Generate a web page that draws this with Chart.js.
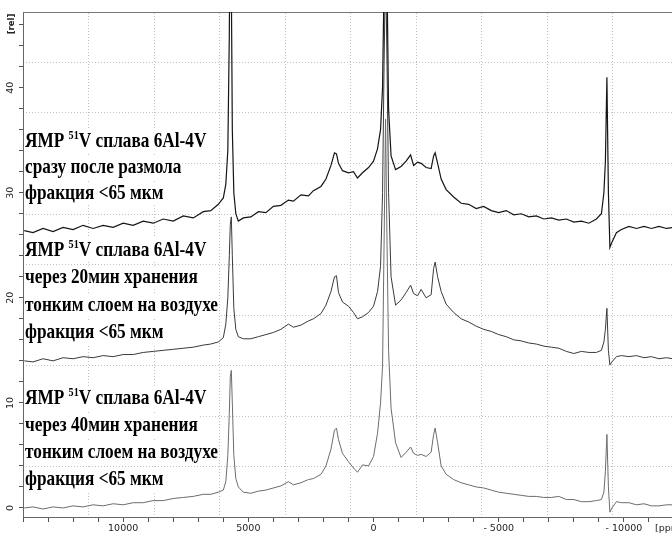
<!DOCTYPE html>
<html>
<head>
<meta charset="utf-8">
<script src="https://cdn.jsdelivr.net/npm/chart.js@4.4.1/dist/chart.umd.min.js"></script>
<style>
  html, body { margin: 0; padding: 0; background: #fff; }
</style>
</head>
<body>
<canvas id="nmr" width="672" height="534"></canvas>
<script>
// chemical shift, ppm (axis is reversed: high ppm on the left)
var ppm = [
  13950, 13600, 13200, 12800, 12400, 12000, 11600, 11200, 10800, 10400,
  10000, 9600, 9200, 8800, 8400, 8000, 7600, 7200, 6800, 6500, 6200,
  6000, 5900, 5820, 5760, 5720, 5680, 5640, 5580, 5500, 5400,
  5200, 4900, 4600, 4300, 4000, 3700, 3400, 3200, 2900, 2600, 2400, 2100,
  1900, 1700, 1560, 1480, 1400, 1240, 1000, 800, 640, 440,
  200, 0, -160, -280, -360, -420, -480, -540, -600, -700,
  -880, -1100, -1300, -1480, -1600, -1760, -1900, -2100, -2300, -2400,
  -2460, -2560, -2700, -2900,
  -3200, -3500, -3800, -4100, -4400, -4700, -5000, -5300, -5600, -5900,
  -6200, -6500, -6800, -7100, -7400, -7700, -8000, -8300, -8600, -8900, -9100,
  -9200, -9260, -9320, -9380, -9440, -9520,
  -9700, -9900, -10200, -10500, -10800, -11100, -11400, -11700, -11950
];

// right after milling (top trace)
var fresh = [
  26.4, 26.2, 26.6, 26.3, 26.7, 26.5, 26.9, 26.6, 26.9, 26.7,
  27.1, 26.9, 27.3, 27.1, 27.5, 27.3, 27.8, 27.6, 28.2, 28.3, 28.9,
  29.5, 30.8, 34.0, 45.0, 60.0, 50.0, 36.0, 30.0, 28.0, 27.3,
  27.6, 27.7, 28.2, 28.1, 28.7, 28.8, 29.3, 29.2, 29.8, 29.7, 30.2, 30.6,
  31.3, 32.6, 33.8, 33.7, 32.8, 32.1, 31.9, 32.0, 31.4, 31.9,
  32.4, 33.0, 34.2, 36.0, 40.0, 50.0, 60.0, 50.0, 38.0, 33.5,
  32.2, 32.5, 33.0, 33.6, 32.6, 32.9, 32.8, 32.4, 32.3, 33.5,
  33.8, 32.8, 31.3, 30.3,
  29.6, 29.0, 28.9, 28.5, 28.7, 28.3, 28.1, 28.3, 27.9, 28.0,
  27.7, 27.8, 27.5, 27.6, 27.4, 27.5, 27.2, 27.3, 27.1, 27.5, 28.0,
  30.0, 33.0, 41.0, 30.0, 24.8, 25.3,
  26.2, 26.5, 26.8, 26.6, 26.8, 26.6, 26.8, 26.6, 26.7
];

// after 20 min in air (middle trace)
var air20 = [
  14.0, 13.9, 14.2, 14.0, 14.3, 14.2, 14.4, 14.3, 14.5, 14.4,
  14.6, 14.6, 14.8, 14.9, 15.0, 15.1, 15.2, 15.3, 15.5, 15.6, 15.8,
  16.2, 17.5, 20.0, 24.0, 27.0, 27.7, 24.0, 19.0, 17.0, 16.3,
  16.1, 16.1, 16.3, 16.5, 16.7, 17.0, 17.5, 17.2, 17.4, 17.8, 18.0, 18.5,
  19.3, 20.6, 22.0, 22.1, 20.5, 19.6, 19.2, 18.6, 18.0, 18.2,
  18.6, 19.2, 20.6, 23.0, 30.0, 42.0, 52.0, 42.0, 30.0, 22.0,
  19.3, 19.8, 20.5, 21.2, 20.4, 20.2, 20.8, 20.0, 20.3, 22.8,
  23.4, 22.0, 20.6, 19.4,
  18.6, 18.0, 17.7, 17.3, 17.0, 16.8, 16.5, 16.3, 16.0, 15.9,
  15.7, 15.6, 15.4, 15.3, 15.2, 14.9, 14.7, 14.9, 14.8, 14.8, 15.0,
  15.8, 17.0, 19.0, 15.0, 13.6, 13.9,
  14.4, 14.5, 14.4, 14.5, 14.3, 14.4, 14.2, 14.3, 14.2
];

// after 40 min in air (bottom trace)
var air40 = [
  0.0, 0.1, -0.1, 0.1, 0.0, 0.2, 0.1, 0.3, 0.2, 0.4,
  0.3, 0.5, 0.5, 0.7, 0.7, 0.9, 1.0, 1.1, 1.3, 1.3, 1.5,
  1.7, 2.5, 5.0, 9.0, 12.5, 13.1, 10.0, 5.0, 2.8, 2.0,
  1.5, 1.4, 1.6, 1.7, 1.9, 2.1, 2.5, 2.2, 2.4, 2.7, 2.8, 3.2,
  4.0, 5.6, 7.4, 7.6, 6.5, 5.2, 4.4, 3.8, 3.4, 4.1,
  4.0, 4.9, 7.1, 10.0, 13.5, 25.0, 37.0, 25.0, 15.0, 9.5,
  6.2, 4.8, 5.3, 5.8, 5.2, 5.0, 5.1, 4.9, 5.3, 7.0,
  7.6, 6.2, 4.0, 3.2,
  2.7, 2.4, 2.2, 2.0, 1.9, 1.7, 1.5, 1.4, 1.3, 1.2,
  1.1, 1.1, 1.0, 1.0, 1.1, 0.8, 0.8, 0.6, 0.6, 0.7, 0.8,
  1.5, 3.5, 7.0, 2.0, -0.4, 0.0,
  0.6, 0.5, 0.5, 0.3, 0.4, 0.2, 0.2, 0.3, 0.3
];

// x axis ticks every 1000 ppm, labelled every 5000
var xTicks = [
  14000, 13000, 12000, 11000, 10000, 9000, 8000, 7000, 6000, 5000,
  4000, 3000, 2000, 1000, 0, -1000, -2000, -3000, -4000, -5000,
  -6000, -7000, -8000, -9000, -10000, -11000
];

var traceColors = ['#151515', '#3a3a3a', '#6c6c6c'];

// caption blocks, first line of each has the 51V superscript
var head = ['ЯМР ', '51', 'V сплава 6Al-4V'];
var notes = [
  { base: 147, step: 26, lines: ['сразу после размола', 'фракция <65 мкм'] },
  { base: 256, step: 27.3, lines: ['через 20мин хранения', 'тонким слоем на воздухе', 'фракция <65 мкм'] },
  { base: 404, step: 27, lines: ['через 40мин хранения', 'тонким слоем на воздухе', 'фракция <65 мкм'] }
];

function pts(vals) {
  return ppm.map(function(p, i) { return { x: p, y: vals[i] }; });
}

var notesPlugin = {
  id: 'notes',
  beforeDatasetsDraw: function(chart) {
    var ctx = chart.ctx;
    var left = chart.chartArea.left + 2;
    var big = 'bold 22px "Liberation Serif", serif';
    var small = 'bold 13px "Liberation Serif", serif';
    ctx.save();
    ctx.font = big;
    var sx = 193 / ctx.measureText('тонким слоем на воздухе').width;
    notes.forEach(function(blk) {
      var all = [null].concat(blk.lines);
      all.forEach(function(line, i) {
        var y = blk.base + i * blk.step;
        ctx.save();
        ctx.translate(left, y);
        ctx.scale(sx, 1);
        ctx.textBaseline = 'alphabetic';
        ctx.textAlign = 'left';
        var w;
        if (line === null) {
          ctx.font = big;
          var w0 = ctx.measureText(head[0]).width;
          ctx.font = small;
          var w1 = ctx.measureText(head[1]).width;
          ctx.font = big;
          var w2 = ctx.measureText(head[2]).width;
          w = w0 + w1 + w2;
          ctx.fillStyle = '#fff';
          ctx.fillRect(-1, -18, w + 2, 24);
          ctx.fillStyle = '#000';
          ctx.fillText(head[0], 0, 0);
          ctx.fillText(head[2], w0 + w1, 0);
          ctx.font = small;
          ctx.fillText(head[1], w0, -8);
        } else {
          ctx.font = big;
          w = ctx.measureText(line).width;
          ctx.fillStyle = '#fff';
          ctx.fillRect(-1, -17, w + 2, 23);
          ctx.fillStyle = '#000';
          ctx.fillText(line, 0, 0);
        }
        ctx.restore();
      });
    });
    ctx.restore();
  },
  afterDraw: function(chart) {
    var ctx = chart.ctx;
    var xs = chart.scales.x;
    ctx.save();
    ctx.fillStyle = '#222';
    ctx.font = '9.5px "DejaVu Sans"';
    ctx.textAlign = 'left';
    ctx.textBaseline = 'top';
    ctx.fillText('[ppm]', xs.getPixelForValue(-11240), xs.top + 7);
    ctx.translate(chart.chartArea.left - 11, chart.chartArea.top + 12);
    ctx.rotate(-Math.PI / 2);
    ctx.textAlign = 'center';
    ctx.textBaseline = 'middle';
    ctx.font = 'bold 8.5px "DejaVu Sans"';
    ctx.fillText('[rel]', 0, 0);
    ctx.restore();
  }
};

function hideEdge(lo, hi) {
  return function(c) {
    if (c.tick && (c.tick.value === lo || c.tick.value === hi)) return 'rgba(0,0,0,0)';
    return '#c2c2c2';
  };
}

var chart = new Chart(document.getElementById('nmr').getContext('2d'), {
  type: 'line',
  data: {
    datasets: [
      { data: pts(fresh), borderColor: traceColors[0], borderWidth: 1.2 },
      { data: pts(air20), borderColor: traceColors[1] },
      { data: pts(air40), borderColor: traceColors[2] }
    ]
  },
  options: {
    responsive: false,
    animation: false,
    devicePixelRatio: 1,
    layout: { padding: { top: 12, right: 0, left: 0, bottom: 0 } },
    elements: {
      line: { borderWidth: 1, tension: 0 },
      point: { radius: 0 }
    },
    plugins: {
      legend: { display: false },
      tooltip: { enabled: false }
    },
    scales: {
      x: {
        type: 'linear',
        reverse: true,
        min: -11920,
        max: 14000,
        afterFit: function(s) { s.height = 17; },
        afterBuildTicks: function(s) {
          s.ticks = xTicks.map(function(v) { return { value: v }; });
        },
        border: { color: '#666', width: 1 },
        grid: { drawOnChartArea: false, tickLength: 5, color: '#555' },
        ticks: {
          autoSkip: false,
          maxRotation: 0,
          padding: 1,
          color: '#222',
          font: { family: 'DejaVu Sans', size: 9.5 },
          callback: function(v) {
            if (v % 5000 !== 0) return '';
            return v < 0 ? '- ' + (-v) : String(v);
          }
        }
      },
      y: {
        min: -0.86,
        max: 47.2,
        afterFit: function(s) { s.width = 23; },
        border: { color: '#666', width: 1 },
        grid: { drawOnChartArea: false, tickLength: 4, color: '#555' },
        ticks: {
          stepSize: 2,
          includeBounds: false,
          minRotation: 90,
          crossAlign: 'center',
          padding: 2,
          color: '#222',
          font: { family: 'DejaVu Sans', size: 9.5 },
          callback: function(v) {
            return Math.abs(v % 10) < 1e-6 ? String(Math.round(v)) : '';
          }
        }
      },
      // dotted background grid of the original plot (not tied to the data ticks)
      xg: {
        type: 'linear',
        position: 'top',
        min: 0,
        max: 9.908,
        afterFit: function(s) { s.height = 0; },
        border: { display: true, color: '#777', width: 1, dash: [1, 2] },
        grid: { drawTicks: false, color: hideEdge(0, 100) },
        ticks: { display: false, stepSize: 1, includeBounds: false }
      },
      yg: {
        type: 'linear',
        position: 'right',
        min: 0,
        max: 10,
        afterFit: function(s) { s.width = 0; },
        border: { display: false, dash: [1, 2] },
        grid: { drawTicks: false, color: hideEdge(0, 10) },
        ticks: { display: false, stepSize: 1, includeBounds: false }
      }
    }
  },
  plugins: [notesPlugin]
});
</script>
</body>
</html>
